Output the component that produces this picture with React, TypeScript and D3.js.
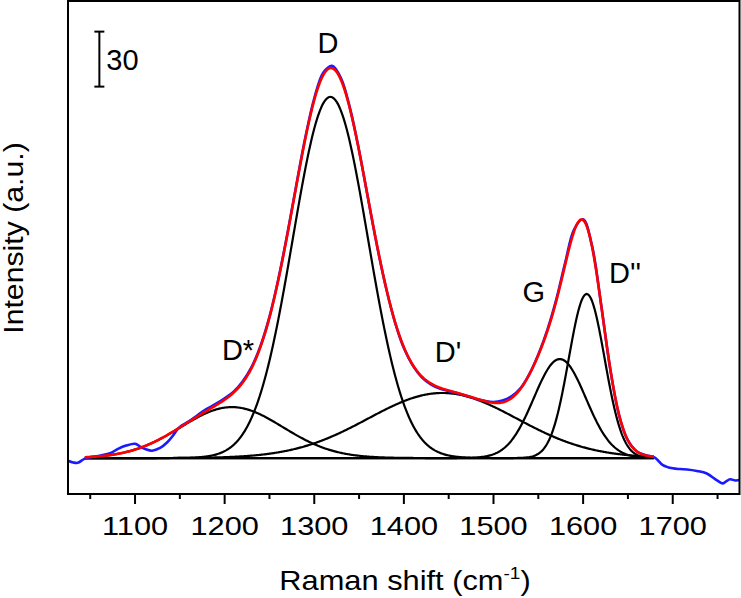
import React from "react";
import * as d3 from "d3";

const W = 741;
const H = 598;
const PLOT = { left: 68, right: 739.5, top: 1, bottom: 494 };
const X_DOMAIN = [1025.2, 1774.5];
const Y_DOMAIN = [-19.6, 249.3];

const majorTicks = [1100, 1200, 1300, 1400, 1500, 1600, 1700];
const minorTicks = [1050, 1150, 1250, 1350, 1450, 1550, 1650, 1750];

// fitted components (Gaussian): name, centre, height, sigma
const peakNames = ["D*", "D", "D'", "G", "D''"];
const peakCenters = [1208, 1318, 1443, 1574, 1604];
const peakHeights = [27.8, 197, 35.5, 54, 89.5];
const peakSigmas = [57, 42, 83, 29, 20];
const fitRange = [1044, 1679];

// labels
const labelText = ["D*", "D", "D'", "G", "D''"];
const labelX = [1214.9, 1315.3, 1449.2, 1545, 1646.7];
const labelY = [53.5, 221, 52.5, 85.1, 95.5];

// scale bar
const scaleBarX = 1060.2;
const scaleBarTop = 232.6;
const scaleBarSize = 30;

// measured spectrum
const spectrumX = [
  1025, 1031, 1036, 1044, 1057, 1072, 1081, 1090, 1100, 1106, 1112, 1119, 1128, 1136, 1142, 1147,
  1150, 1160, 1170, 1180, 1190, 1200, 1210, 1220, 1230, 1240, 1250, 1260, 1270, 1280, 1290, 1300,
  1310, 1320, 1330, 1340, 1350, 1360, 1370, 1380, 1390, 1400, 1410, 1420, 1430, 1440, 1450, 1460,
  1470, 1480, 1490, 1500, 1510, 1520, 1530, 1540, 1550, 1560, 1570, 1580, 1590, 1600, 1610, 1620,
  1630, 1640, 1650, 1660, 1670, 1680, 1689, 1700, 1708, 1716, 1727, 1738, 1749, 1756, 1760, 1764,
  1770, 1775,
];
const spectrumY = [
  -1.5, -2.4, -2.6, -0.3, 1.0, 2.6, 5.0, 6.8, 7.8, 6.2, 4.8, 4.0, 5.5, 8.6, 12.0, 15.5,
  17.0, 20.0, 23.5, 26.8, 29.5, 32.6, 36.2, 41.8, 49.6, 61.2, 77.0, 97.8, 122.4, 149.0, 174.8, 196.2,
  210.2, 214.0, 207.0, 190.6, 167.8, 141.6, 115.8, 93.0, 74.2, 60.0, 50.4, 44.0, 40.2, 37.9, 36.5, 35.3,
  34.0, 32.4, 31.2, 30.6, 31.4, 33.6, 38.0, 45.8, 56.5, 69.8, 86.4, 106.6, 124.8, 130.2, 115.6, 84.0,
  49.4, 23.6, 9.6, 3.6, 1.6, 0.3, -3.8, -5.6, -6.0, -6.2, -7.0, -8.4, -12.0, -13.8, -12.6, -11.6,
  -12.2, -12.0,
];

const FONT = "'Liberation Sans', Arial, Helvetica, sans-serif";

function gauss(v: number, i: number) {
  const d = v - peakCenters[i];
  return peakHeights[i] * Math.exp(-(d * d) / (2 * peakSigmas[i] * peakSigmas[i]));
}

export default function App() {
  const x = d3.scaleLinear().domain(X_DOMAIN).range([PLOT.left, PLOT.right]);
  const y = d3.scaleLinear().domain(Y_DOMAIN).range([PLOT.bottom, PLOT.top]);

  const fitXs = d3.range(fitRange[0], fitRange[1] + 0.01, 1);
  const line = d3
    .line<[number, number]>()
    .x((d) => x(d[0]))
    .y((d) => y(d[1]));

  const compPaths = peakCenters.map((_, i) =>
    line(fitXs.map((v) => [v, gauss(v, i)] as [number, number]))
  );
  const sumPath = line(
    fitXs.map((v) => [v, peakCenters.reduce((s, _, i) => s + gauss(v, i), 0)] as [number, number])
  );
  const spectrumLine = d3
    .line<[number, number]>()
    .x((d) => x(d[0]))
    .y((d) => y(d[1]))
    .curve(d3.curveCatmullRom.alpha(0.5));
  const specPath = spectrumLine(spectrumX.map((v, i) => [v, spectrumY[i]] as [number, number]));

  const sbx = x(scaleBarX);
  const sbTop = y(scaleBarTop);
  const sbBot = y(scaleBarTop - scaleBarSize);

  return (
    <div style={{ position: "absolute", left: 0, top: 0 }}>
      <svg width={W} height={H} style={{ display: "block", background: "#fff" }} fontFamily={FONT}>
        <defs>
          <clipPath id="plotClip">
            <rect x={PLOT.left} y={PLOT.top} width={PLOT.right - PLOT.left} height={PLOT.bottom - PLOT.top} />
          </clipPath>
        </defs>
        <g clipPath="url(#plotClip)">
          {compPaths.map((p, i) => (
            <path key={peakNames[i]} d={p || ""} fill="none" stroke="#000" strokeWidth={2.2} />
          ))}
          <path d={specPath || ""} fill="none" stroke="#1a1aff" strokeWidth={2.6} />
          <path d={sumPath || ""} fill="none" stroke="#ff0000" strokeWidth={2.6} />
        </g>

        {/* frame */}
        <rect
          x={PLOT.left}
          y={PLOT.top}
          width={PLOT.right - PLOT.left}
          height={PLOT.bottom - PLOT.top}
          fill="none"
          stroke="#000"
          strokeWidth={2}
        />

        {/* ticks */}
        {majorTicks.map((t) => (
          <g key={"M" + t}>
            <line x1={x(t)} x2={x(t)} y1={PLOT.bottom} y2={PLOT.bottom + 10} stroke="#000" strokeWidth={2} />
            <text
              transform={`translate(${x(t)},535) scale(1.16,1)`}
              textAnchor="middle"
              fontSize={26.5}
              fill="#000"
            >
              {t}
            </text>
          </g>
        ))}
        {minorTicks.map((t) => (
          <line key={"m" + t} x1={x(t)} x2={x(t)} y1={PLOT.bottom} y2={PLOT.bottom + 5} stroke="#000" strokeWidth={2} />
        ))}

        {/* axis titles */}
        <text transform={`translate(405,590) scale(1.12,1)`} textAnchor="middle" fontSize={27.5} fill="#000">
          Raman shift (cm
          <tspan fontSize={17} dy={-11}>-1</tspan>
          <tspan dy={11}>)</tspan>
        </text>
        <text
          transform={`translate(23,238) rotate(-90) scale(1.12,1)`}
          textAnchor="middle"
          fontSize={27}
          fill="#000"
        >
          Intensity (a.u.)
        </text>

        {/* peak labels */}
        {labelText.map((t, i) => (
          <text key={t} x={x(labelX[i])} y={y(labelY[i])} textAnchor="middle" fontSize={29} fill="#000">
            {t}
          </text>
        ))}

        {/* scale bar */}
        <g stroke="#000" strokeWidth={2}>
          <line x1={sbx} x2={sbx} y1={sbTop} y2={sbBot} />
          <line x1={sbx - 5} x2={sbx + 5} y1={sbTop} y2={sbTop} />
          <line x1={sbx - 5} x2={sbx + 5} y1={sbBot} y2={sbBot} />
        </g>
        <text x={sbx + 7} y={70} fontSize={29} fill="#000">
          {scaleBarSize}
        </text>
      </svg>
    </div>
  );
}
